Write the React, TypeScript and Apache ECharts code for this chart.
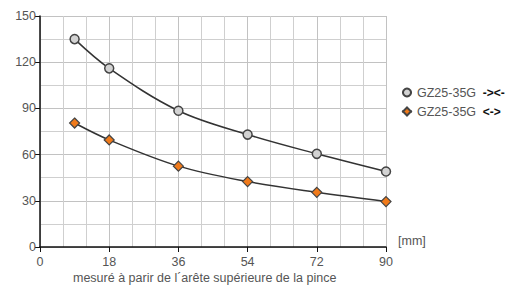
import React, { useEffect, useRef } from "react";
import * as echarts from "echarts";

const xValues = [9, 18, 36, 54, 72, 90];
const seriesCircle = [135, 116, 88.5, 73, 60.5, 49];
const seriesDiamond = [80.5, 69.5, 52.5, 42.5, 35.5, 29.5];
const seriesNames = ["GZ25-35G ->•<-", "GZ25-35G <->"];

export default function App() {
  const ref = useRef<HTMLDivElement>(null);
  useEffect(() => {
    const chart = echarts.init(ref.current!, undefined, { renderer: "svg" });
    const font = "Liberation Sans, Arial, sans-serif";
    chart.setOption({
      animation: false,
      textStyle: { fontFamily: font },
      grid: { left: 40, right: 134, top: 16, bottom: 39 },
      legend: {
        orient: "vertical",
        left: 396,
        top: 81,
        itemWidth: 10,
        itemHeight: 10,
        itemGap: 6,
        textStyle: {
          fontFamily: font,
          fontSize: 12,
          color: "#555",
          rich: {
            a: { fontSize: 12.5, color: "#555", fontFamily: font },
            b: { fontSize: 12, color: "#111", fontWeight: "bold", fontFamily: font },
          },
        },
        formatter: (name: string) => {
          const idx = name.indexOf(" ");
          return "{a|" + name.slice(0, idx) + "}  {b|" + name.slice(idx + 1).replace("•", "") + "}";
        },
        data: seriesNames,
      },
      xAxis: {
        type: "value",
        min: 0,
        max: 90,
        interval: 18,
        name: "[mm]",
        nameLocation: "end",
        nameGap: 12,
        nameTextStyle: { fontSize: 12.5, color: "#555", verticalAlign: "bottom", padding: [0, 0, 0, 0] },
        axisLine: { show: true, lineStyle: { color: "#111", width: 1.5 } },
        axisTick: { show: true, length: 5, lineStyle: { color: "#111" } },
        axisLabel: { fontSize: 12.5, color: "#555", margin: 8 },
        splitLine: { show: true, lineStyle: { color: "#c2c2c2" } },
        minorTick: { show: false, splitNumber: 3 },
        minorSplitLine: { show: true, lineStyle: { color: "#cfcfcf" } },
      },
      yAxis: {
        type: "value",
        min: 0,
        max: 150,
        interval: 30,
        axisLine: { show: true, lineStyle: { color: "#111", width: 1.5 } },
        axisTick: { show: true, length: 5, lineStyle: { color: "#111" } },
        axisLabel: { fontSize: 12.5, color: "#555", margin: 4 },
        splitLine: { show: true, lineStyle: { color: "#c2c2c2" } },
        minorTick: { show: false, splitNumber: 2 },
        minorSplitLine: { show: true, lineStyle: { color: "#cfcfcf" } },
      },
      graphic: [
        {
          type: "text",
          left: 73,
          top: 271,
          style: {
            text: "mesuré à parir de l´arête supérieure de la pince",
            fontSize: 12.5,
            fill: "#555",
            fontFamily: font,
          },
        },
      ],
      series: [
        {
          name: seriesNames[0],
          type: "line",
          smooth: 0.35,
          symbol: "circle",
          symbolSize: 9,
          data: xValues.map((x, i) => [x, seriesCircle[i]]),
          lineStyle: { color: "#333", width: 1.5 },
          itemStyle: { color: "#d3d3d3", borderColor: "#444", borderWidth: 1.5 },
        },
        {
          name: seriesNames[1],
          type: "line",
          smooth: 0.35,
          symbol: "diamond",
          symbolSize: 10,
          data: xValues.map((x, i) => [x, seriesDiamond[i]]),
          lineStyle: { color: "#333", width: 1.5 },
          itemStyle: { color: "#f07a1a", borderColor: "#444", borderWidth: 1.2 },
        },
      ],
    });
    return () => chart.dispose();
  }, []);
  return <div ref={ref} style={{ width: 520, height: 286, position: "absolute", left: 0, top: 0 }} />;
}
